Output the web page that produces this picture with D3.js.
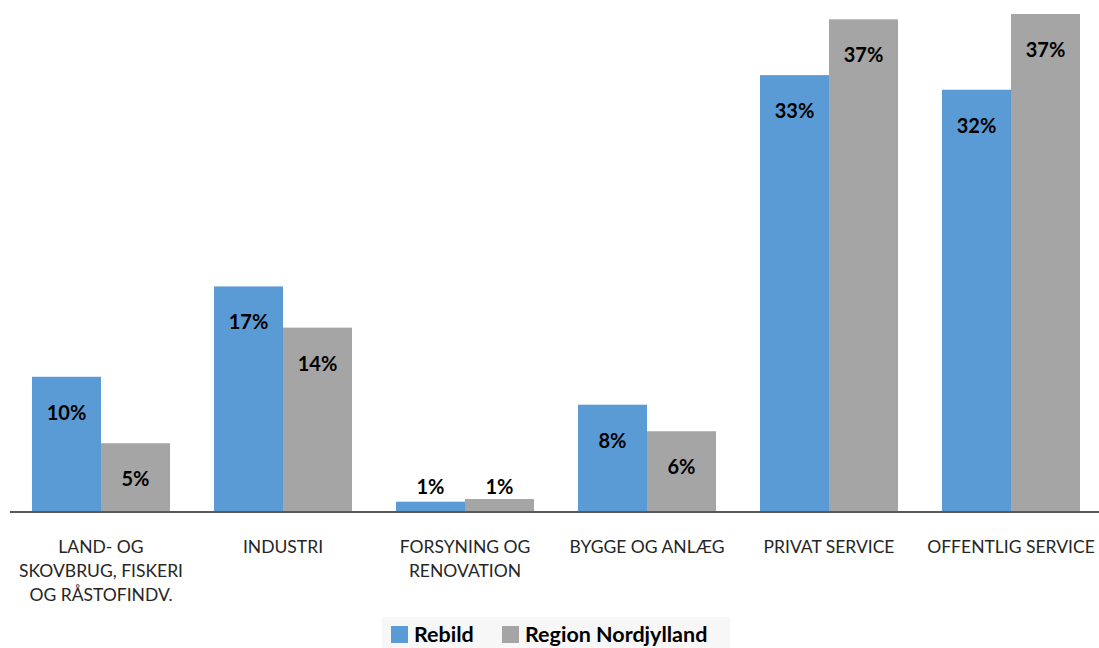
<!DOCTYPE html>
<html lang="da">
<head>
<meta charset="UTF-8">
<title>Beskæftigelse fordelt på brancher</title>
<script src="https://d3js.org/d3.v7.min.js"></script>
<style>
  body { margin: 0; background: #fff; }
  svg { display: block; }
  text { font-family: Lato, "Open Sans", sans-serif; }
</style>
</head>
<body>
<script>
const categories = [
  ["LAND- OG", "SKOVBRUG, FISKERI", "OG RÅSTOFINDV."],
  ["INDUSTRI"],
  ["FORSYNING OG", "RENOVATION"],
  ["BYGGE OG ANLÆG"],
  ["PRIVAT SERVICE"],
  ["OFFENTLIG SERVICE"]
]
const seriesNames = ["Rebild", "Region Nordjylland"]
const rebild = [10.1, 16.9, 0.7, 8.0, 32.8, 31.7]
const region = [5.1, 13.8, 0.9, 6.0, 37.0, 37.4]
const colors = ["#5B9BD5", "#A5A5A5"]

const width = 1099, height = 648
const baseY = 511

const svg = d3.select("body").append("svg")
  .attr("width", width).attr("height", height)

// bands 182 wide, the two bars take 138 of it
const band = d3.scaleBand().domain(d3.range(categories.length)).range([10, 1102])
const inner = d3.scaleBand().domain([0, 1]).range([22, 160])

const y = d3.scaleLinear().domain([0, 37.4]).range([baseY, 14])

const data = []
categories.forEach((c, i) => {
  data.push({ i, s: 0, v: rebild[i] })
  data.push({ i, s: 1, v: region[i] })
})

svg.selectAll("rect.bar").data(data).enter().append("rect")
  .attr("class", "bar")
  .attr("x", d => band(d.i) + inner(d.s))
  .attr("width", inner.bandwidth())
  .attr("y", d => y(d.v))
  .attr("height", d => baseY - y(d.v))
  .attr("fill", d => colors[d.s])

svg.selectAll("text.val").data(data).enter().append("text")
  .attr("class", "val")
  .attr("x", d => band(d.i) + inner(d.s) + inner.bandwidth() / 2)
  .attr("y", d => (baseY - y(d.v) > 40 ? y(d.v) + 43 : 494))
  .attr("text-anchor", "middle")
  .attr("font-size", 20).attr("font-weight", "bold")
  .attr("fill", "#000")
  .text(d => Math.round(d.v) + "%")

// axis line
svg.append("line")
  .attr("x1", 10).attr("x2", 1099)
  .attr("y1", baseY + 1).attr("y2", baseY + 1)
  .attr("stroke", "#595959").attr("stroke-width", 2)

// category labels
const cat = svg.selectAll("text.cat").data(categories).enter().append("text")
  .attr("class", "cat")
  .attr("text-anchor", "middle")
  .attr("font-size", 17.5)
  .attr("fill", "#262626")
cat.selectAll("tspan").data((d, i) => d.map(l => ({ l, i }))).enter().append("tspan")
  .attr("x", d => band(d.i) + band.bandwidth() / 2)
  .attr("y", (d, j) => 553 + j * 24)
  .text(d => d.l)

// legend
const lg = svg.append("g")
lg.append("rect").attr("x", 382).attr("y", 617).attr("width", 348).attr("height", 31)
  .attr("fill", "#F7F7F7")
const legX = [391, 502]
seriesNames.forEach((n, i) => {
  lg.append("rect").attr("x", legX[i]).attr("y", 626).attr("width", 17).attr("height", 17)
    .attr("fill", colors[i])
  lg.append("text").attr("x", legX[i] + 23).attr("y", 642)
    .attr("font-size", 21.5).attr("font-weight", "bold").attr("fill", "#000")
    .text(n)
})
</script>
</body>
</html>
